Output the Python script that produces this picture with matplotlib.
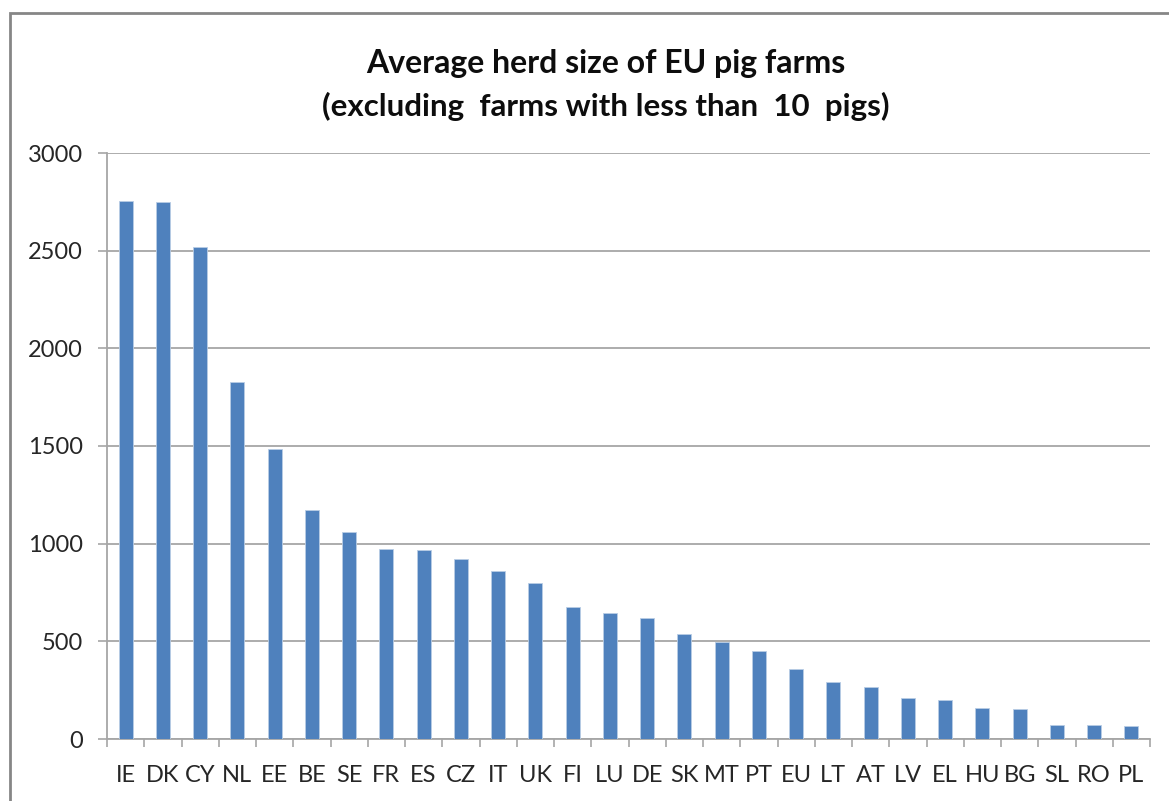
import matplotlib.pyplot as plt
from matplotlib.patches import Rectangle

countries = ['IE', 'DK', 'CY', 'NL', 'EE', 'BE', 'SE', 'FR', 'ES', 'CZ', 'IT', 'UK', 'FI', 'LU',
             'DE', 'SK', 'MT', 'PT', 'EU', 'LT', 'AT', 'LV', 'EL', 'HU', 'BG', 'SL', 'RO', 'PL']
herd_size = [2755, 2750, 2520, 1826, 1485, 1170, 1060, 973, 966, 920, 862, 797, 677, 643,
             617, 539, 498, 449, 357, 290, 265, 212, 200, 159, 152, 73, 73, 67]
y_ticks = [0, 500, 1000, 1500, 2000, 2500, 3000]

plt.rcParams['font.family'] = ['Lato', 'DejaVu Sans']

fig = plt.figure(figsize=(11.69, 8.01), dpi=100)
ax = fig.add_axes([107 / 1169, 1 - 739 / 801, (1150 - 107) / 1169, (739 - 153) / 801])

# outer chart-area border (left and top visible, the rest runs off the image)
fig.patches.append(Rectangle((10 / 1169, -0.05), 1.2, 1 - 13 / 801 + 0.05,
                             transform=fig.transFigure, fill=False,
                             edgecolor='#868686', linewidth=2))

x = list(range(len(countries)))
ax.bar(x, herd_size, width=0.38, color='#4F81BD', edgecolor='#B9CDE5', linewidth=0.6, zorder=3)

ax.set_xlim(-0.5, len(countries) - 0.5)
ax.set_ylim(0, 3000)
ax.set_yticks(y_ticks)
ax.set_yticklabels([str(v) for v in y_ticks], fontsize=17, color='#262626')
ax.set_xticks(x)
ax.set_xticklabels(countries, fontsize=17, color='#262626')
ax.tick_params(axis='x', length=0, pad=19)
ax.set_xticks([i - 0.5 for i in range(len(countries) + 1)], minor=True)
ax.tick_params(axis='x', which='minor', length=6, width=1.2, color='#a6a6a6', direction='out')
ax.tick_params(axis='y', length=6.5, width=1.2, color='#a6a6a6', pad=11)

ax.grid(axis='y', color='#a6a6a6', linewidth=1.3, zorder=0)
for side in ['top', 'right']:
    ax.spines[side].set_visible(False)
for side in ['left', 'bottom']:
    ax.spines[side].set_color('#a6a6a6')
    ax.spines[side].set_linewidth(1.3)

fig.text(606 / 1169, 1 - 63 / 801, 'Average herd size of EU pig farms',
         ha='center', va='center', fontsize=23, fontweight='bold', color='#0d0d0d')
fig.text(606 / 1169, 1 - 106 / 801, '(excluding  farms with less than  10  pigs)',
         ha='center', va='center', fontsize=22.5, fontweight='bold', color='#0d0d0d')

fig.savefig('out.png', dpi=100)
